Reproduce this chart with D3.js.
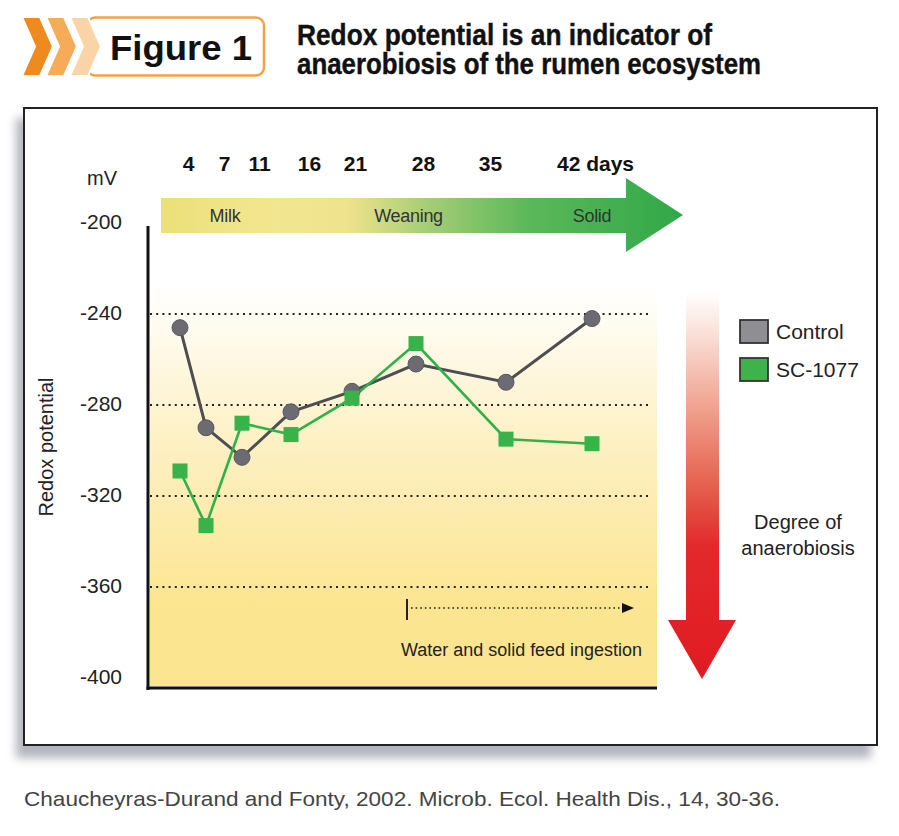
<!DOCTYPE html>
<html><head><meta charset="utf-8">
<script src="https://cdn.jsdelivr.net/npm/d3@7/dist/d3.min.js"></script>
<style>body{margin:0;background:#fff;}svg{display:block;}</style>
</head><body>
<svg id="c" width="899" height="836"></svg>
<script>
const days = [4, 7, 11, 16, 21, 28, 35, 42];
const dayLabels = ["4", "7", "11", "16", "21", "28", "35", "42 days"];
const control = [-246, -290, -303, -283, -274, -262, -270, -242];
const sc1077 = [-309, -333, -288, -293, -277, -253, -295, -297];
const yTicks = [-200, -240, -280, -320, -360, -400];
const gridVals = [-240, -280, -320, -360];
const seriesNames = ["Control", "SC-1077"];
const phases = ["Milk", "Weaning", "Solid"];

const FONT = "'Liberation Sans',Arial,Helvetica,sans-serif";
const svg = d3.select("#c");
const defs = svg.append("defs");

// scales
const y = d3.scaleLinear().domain([-400, -200]).range([678, 223]);
const x = d3.scaleLinear().domain(days).range([180, 206, 242, 291, 352, 416, 506, 592]);
const xLab = d3.scaleLinear().domain(days).range([188, 224, 259, 309, 355, 423, 490, 595]);
const phaseX = d3.scalePoint().domain(phases).range([225, 592]);

// ---- header ----
const hdr = svg.append("g");
hdr.append("rect").attr("x", 87).attr("y", 17.5).attr("width", 177).attr("height", 58)
  .attr("rx", 8).attr("fill", "#fff").attr("stroke", "#f2a443").attr("stroke-width", 2.5);
const chev = x0 => `M${x0},17 L${x0+18},17 L${x0+31},46.5 L${x0+18},76 L${x0},76 L${x0+13},46.5 Z`;
[["#fad3a6", 70], ["#f5ab58", 46], ["#ef8a1f", 22]].forEach(([c, x0]) => {
  hdr.append("path").attr("d", chev(x0)).attr("fill", c).attr("stroke", "#fff").attr("stroke-width", 2);
});
hdr.append("text").attr("x", 110).attr("y", 60).attr("font-family", FONT)
  .attr("font-weight", "bold").attr("font-size", 35).attr("fill", "#111")
  .attr("textLength", 142).attr("lengthAdjust", "spacingAndGlyphs").text("Figure 1");
hdr.append("text").attr("x", 297).attr("y", 45).attr("font-family", FONT).attr("font-weight", "bold")
  .attr("font-size", 29).attr("fill", "#111").attr("stroke", "#111").attr("stroke-width", 0.4)
  .attr("textLength", 415).attr("lengthAdjust", "spacingAndGlyphs")
  .text("Redox potential is an indicator of");
hdr.append("text").attr("x", 297).attr("y", 74).attr("font-family", FONT).attr("font-weight", "bold")
  .attr("font-size", 29).attr("fill", "#111").attr("stroke", "#111").attr("stroke-width", 0.4)
  .attr("textLength", 464).attr("lengthAdjust", "spacingAndGlyphs")
  .text("anaerobiosis of the rumen ecosystem");

// ---- frame with shadow ----
const sh = defs.append("filter").attr("id", "blur").attr("x", "-10%").attr("y", "-10%").attr("width", "120%").attr("height", "130%");
sh.append("feGaussianBlur").attr("stdDeviation", 5);
svg.append("rect").attr("x", 16).attr("y", 118).attr("width", 855).attr("height", 640)
  .attr("fill", "#b4b5bd").attr("filter", "url(#blur)");
svg.append("rect").attr("x", 24).attr("y", 108).attr("width", 853).attr("height", 637)
  .attr("fill", "#fff").attr("stroke", "#222").attr("stroke-width", 2);

// ---- plot background ----
const bg = defs.append("linearGradient").attr("id", "bgGrad").attr("gradientUnits", "userSpaceOnUse")
  .attr("x1", 0).attr("x2", 0).attr("y1", 285).attr("y2", 610);
bg.append("stop").attr("offset", 0).attr("stop-color", "#ffffff");
bg.append("stop").attr("offset", 0.5).attr("stop-color", "#fdf0c2");
bg.append("stop").attr("offset", 1).attr("stop-color", "#fce590");
svg.append("rect").attr("x", 150).attr("y", 228).attr("width", 507).attr("height", 458).attr("fill", "url(#bgGrad)");

// ---- gridlines ----
svg.append("g").selectAll("line").data(gridVals).join("line")
  .attr("x1", 150).attr("x2", 652).attr("y1", d => y(d)).attr("y2", d => y(d))
  .attr("stroke", "#222").attr("stroke-width", 2.2).attr("stroke-dasharray", "2,4.2");

// ---- axes ----
svg.append("line").attr("x1", 148).attr("x2", 148).attr("y1", 226).attr("y2", 690)
  .attr("stroke", "#111").attr("stroke-width", 3);
svg.append("line").attr("x1", 146.5).attr("x2", 657).attr("y1", 688).attr("y2", 688)
  .attr("stroke", "#111").attr("stroke-width", 3);

const yAxis = d3.axisLeft(y).tickValues(yTicks).tickSize(0).tickPadding(0).tickFormat(d => String(d));
const ya = svg.append("g").attr("transform", "translate(122,-1.5)").call(yAxis);
ya.select(".domain").remove();
ya.selectAll("text").attr("font-family", FONT).attr("font-size", 21).attr("fill", "#222");
svg.append("text").attr("x", 102).attr("y", 185).attr("text-anchor", "middle").attr("font-family", FONT)
  .attr("font-size", 20).attr("fill", "#222").text("mV");
svg.append("text").attr("transform", "translate(53,447) rotate(-90)").attr("text-anchor", "middle")
  .attr("font-family", FONT).attr("font-size", 20).attr("fill", "#222").text("Redox potential");

// ---- top day labels ----
const xAxis = d3.axisTop(xLab).tickValues(days).tickSize(0).tickPadding(0).tickFormat((d, i) => dayLabels[i]);
const xa = svg.append("g").attr("transform", "translate(0,171)").call(xAxis);
xa.select(".domain").remove();
xa.selectAll("text").attr("font-family", FONT).attr("font-weight", "bold").attr("font-size", 21).attr("fill", "#111");

// ---- green phase arrow ----
const gg = defs.append("linearGradient").attr("id", "gArrow").attr("gradientUnits", "userSpaceOnUse")
  .attr("x1", 162).attr("x2", 683).attr("y1", 0).attr("y2", 0);
[[0, "#ece07a"], [0.22, "#f3e690"], [0.36, "#eee28c"], [0.5, "#a9cf77"], [0.7, "#5cb85a"], [1, "#30a848"]]
  .forEach(([o, c]) => gg.append("stop").attr("offset", o).attr("stop-color", c));
svg.append("path").attr("d", "M161,198 L626,198 L626,178 L683,215 L626,252 L626,233 L161,233 Z")
  .attr("fill", "url(#gArrow)");
svg.append("g").selectAll("text").data(phases).join("text")
  .attr("x", d => phaseX(d)).attr("y", 222).attr("text-anchor", "middle")
  .attr("font-family", FONT).attr("font-size", 18).attr("fill", "#333")
  .attr("letter-spacing", -0.3).text(d => d);

// ---- series ----
const line = d3.line().x((d, i) => x(days[i])).y(d => y(d));
svg.append("path").datum(control).attr("d", line).attr("fill", "none").attr("stroke", "#4d4d52").attr("stroke-width", 3);
svg.append("path").datum(sc1077).attr("d", line).attr("fill", "none").attr("stroke", "#2fb04a").attr("stroke-width", 2.6);
svg.append("g").selectAll("circle").data(control).join("circle")
  .attr("cx", (d, i) => x(days[i])).attr("cy", d => y(d)).attr("r", 8)
  .attr("fill", "#6b6b71").attr("stroke", "#58585e").attr("stroke-width", 1);
svg.append("g").selectAll("rect").data(sc1077).join("rect")
  .attr("x", (d, i) => x(days[i]) - 7.5).attr("y", d => y(d) - 7.5).attr("width", 15).attr("height", 15)
  .attr("fill", "#37b34a");

// ---- water & solid feed annotation ----
svg.append("line").attr("x1", 407).attr("x2", 407).attr("y1", 599).attr("y2", 620).attr("stroke", "#222").attr("stroke-width", 2);
svg.append("line").attr("x1", 411).attr("x2", 624).attr("y1", 608).attr("y2", 608)
  .attr("stroke", "#222").attr("stroke-width", 1.6).attr("stroke-dasharray", "1.6,3");
svg.append("path").attr("d", "M622,603 L634,608 L622,613 Z").attr("fill", "#111");
svg.append("text").attr("x", 401).attr("y", 656).attr("font-family", FONT).attr("font-size", 18)
  .attr("fill", "#222").attr("textLength", 241).attr("lengthAdjust", "spacingAndGlyphs")
  .text("Water and solid feed ingestion");

// ---- red arrow ----
const rg = defs.append("linearGradient").attr("id", "rArrow").attr("gradientUnits", "userSpaceOnUse")
  .attr("x1", 0).attr("x2", 0).attr("y1", 292).attr("y2", 678);
[[0, "#ffffff"], [0.1, "#fbe2da"], [0.3, "#f0a28e"], [0.5, "#e6604e"], [0.66, "#e2292c"], [1, "#e01b22"]]
  .forEach(([o, c]) => rg.append("stop").attr("offset", o).attr("stop-color", c));
svg.append("path").attr("d", "M686,292 L719,292 L719,620 L736,620 L702,679 L668,620 L686,620 Z")
  .attr("fill", "url(#rArrow)");

// ---- legend ----
const leg = svg.append("g").selectAll("g").data(seriesNames).join("g")
  .attr("transform", (d, i) => `translate(740,${320 + i * 38})`);
leg.append("rect").attr("width", 28).attr("height", 23).attr("fill", (d, i) => i ? "#3cb44b" : "#8e8e93")
  .attr("stroke", "#333").attr("stroke-width", 1.8);
leg.append("text").attr("x", 36).attr("y", 19).attr("font-family", FONT).attr("font-size", 21)
  .attr("fill", "#222").text(d => d);

svg.append("text").attr("x", 798).attr("y", 529).attr("text-anchor", "middle").attr("font-family", FONT)
  .attr("font-size", 20).attr("fill", "#222").text("Degree of");
svg.append("text").attr("x", 798).attr("y", 555).attr("text-anchor", "middle").attr("font-family", FONT)
  .attr("font-size", 20).attr("fill", "#222").text("anaerobiosis");

// ---- footer ----
svg.append("text").attr("x", 24).attr("y", 806).attr("font-family", FONT).attr("font-size", 21)
  .attr("fill", "#444").attr("textLength", 756).attr("lengthAdjust", "spacingAndGlyphs")
  .text("Chaucheyras-Durand and Fonty, 2002. Microb. Ecol. Health Dis., 14, 30-36.");
</script>
</body></html>
